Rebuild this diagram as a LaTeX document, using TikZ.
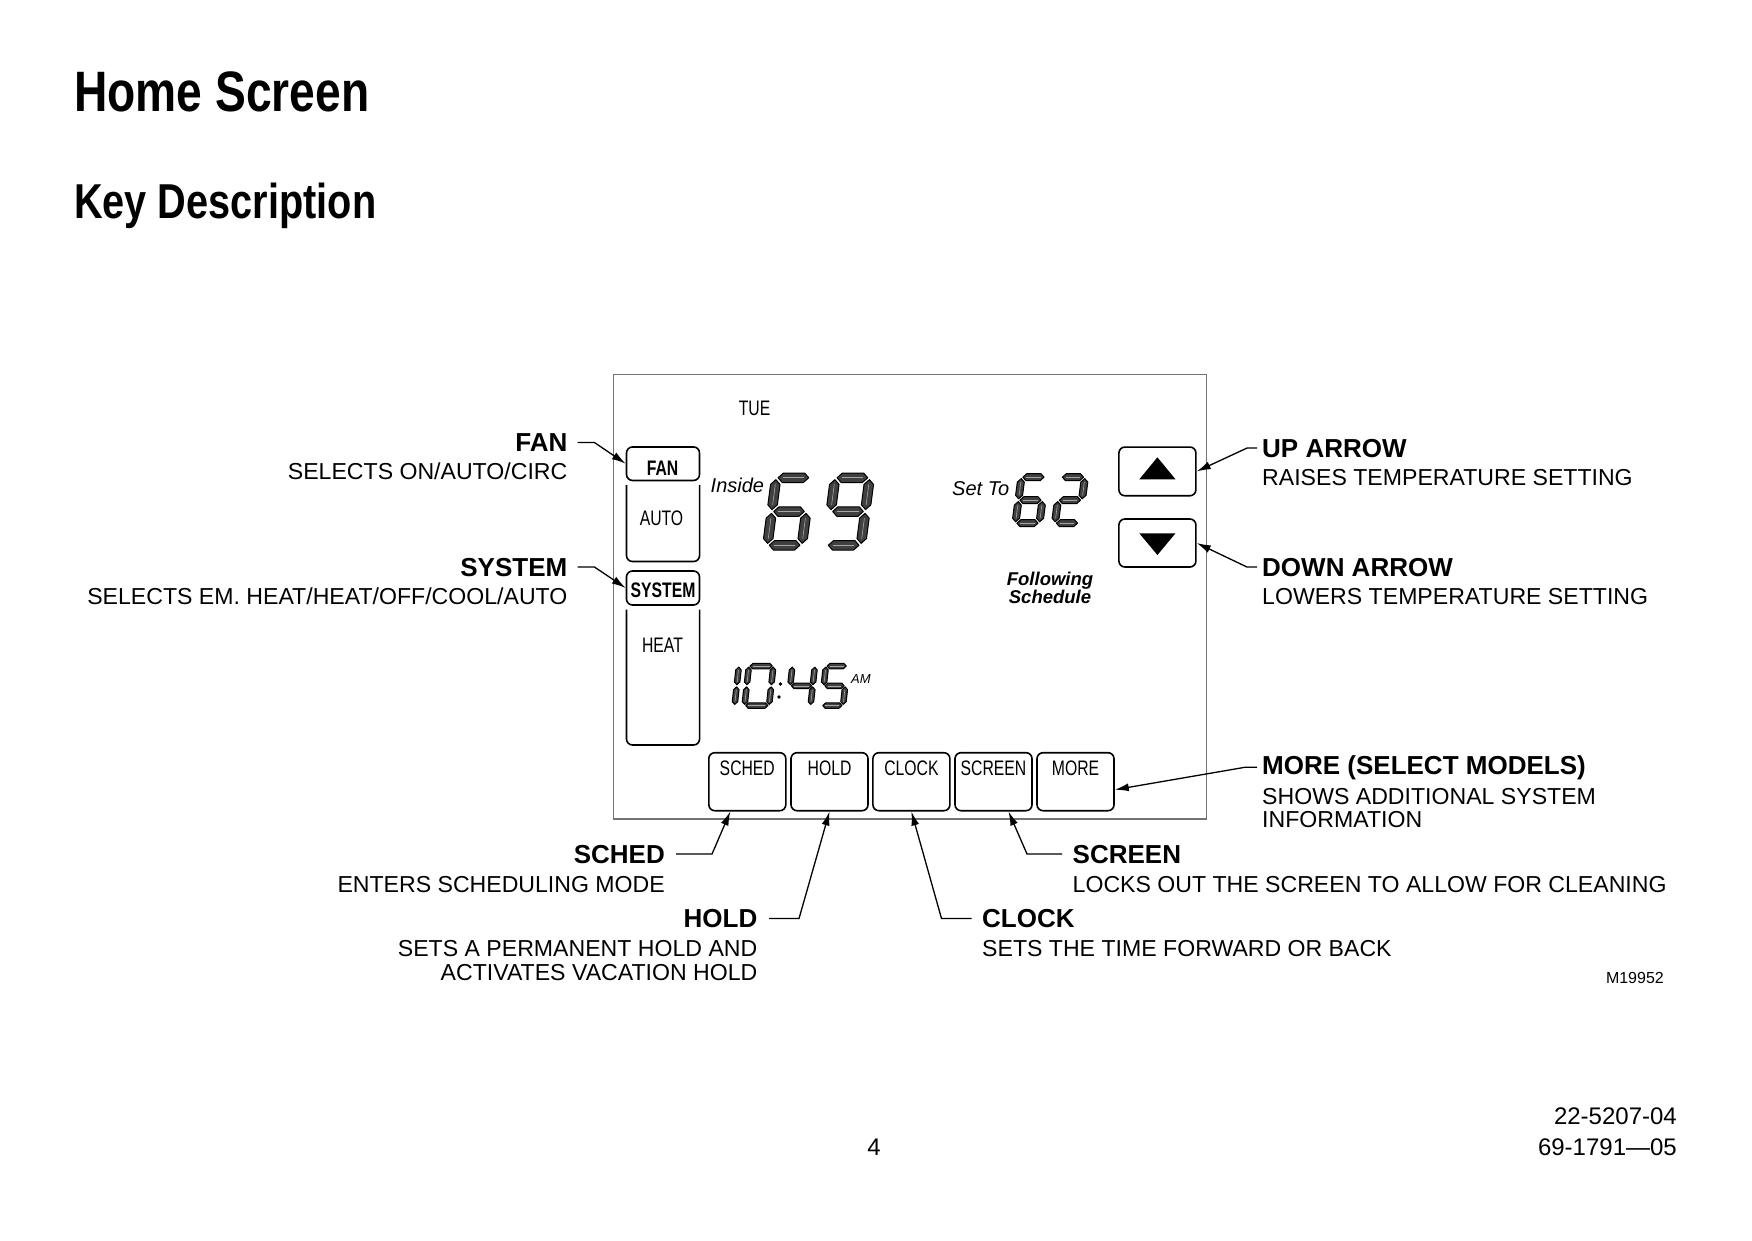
\documentclass[tikz,border=0pt]{standalone}
\usepackage{fontspec}
\setmainfont{Liberation Sans}
\newfontfamily\condf[FakeStretch=0.75]{Liberation Sans}
\newfontfamily\titlef[FakeStretch=0.81]{Liberation Sans}
\usetikzlibrary{arrows.meta}

\tikzset{
  lbl/.style={inner sep=0pt, font=\fontsize{26}{30}\selectfont\bfseries},
  desc/.style={inner sep=0pt, font=\fontsize{23.1}{26}\selectfont},
  ttl/.style={inner sep=0pt, font=\titlef\bfseries},
  btn/.style={draw, line width=1.6pt, rounded corners=6pt, inner sep=0pt},
  devtxt/.style={inner sep=0pt, font=\condf\fontsize{21}{24}\selectfont},
  devbold/.style={inner sep=0pt, font=\condf\fontsize{21}{24}\selectfont\bfseries},
  ital/.style={inner sep=0pt, font=\fontsize{20}{24}\selectfont\itshape},
  arr/.style={line width=1.3pt, -{Latex[length=14pt,width=8pt]}},
  lcdseg/.style={fill=black!75, draw=black, line width=1pt, line join=round},
  lcdin/.style={draw=black!35, line width=0.6pt},
}

\newcommand\lcdH[3]{\filldraw[lcdseg] (#1,#3) -- ({#1+\hh},{#3+\hh}) -- ({#2-\hh},{#3+\hh}) -- (#2,#3) -- ({#2-\hh},{#3-\hh}) -- ({#1+\hh},{#3-\hh}) -- cycle;
  \draw[lcdin] ({#1+\hh},#3) -- ({#2-\hh},#3);}
\newcommand\lcdV[3]{\filldraw[lcdseg] (#1,#2) -- ({#1+\hh},{#2+\hh}) -- ({#1+\hh},{#3-\hh}) -- (#1,#3) -- ({#1-\hh},{#3-\hh}) -- ({#1-\hh},{#2+\hh}) -- cycle;
  \draw[lcdin] (#1,{#2+\hh}) -- (#1,{#3-\hh});}
\def\lcda{\lcdH{\xl+\gg}{\xr-\gg}{\yt}}
\def\lcdb{\lcdV{\xr}{\ym+\gg}{\yt-\gg}}
\def\lcdc{\lcdV{\xr}{\yb+\gg}{\ym-\gg}}
\def\lcdd{\lcdH{\xl+\gg}{\xr-\gg}{\yb}}
\def\lcde{\lcdV{\xl}{\yb+\gg}{\ym-\gg}}
\def\lcdf{\lcdV{\xl}{\ym+\gg}{\yt-\gg}}
\def\lcdg{\lcdH{\xl+\gg}{\xr-\gg}{\ym}}
% x y(bottom) W H T slant segments
\newcommand\lcddigit[7]{%
  \begin{scope}[shift={(#1,#2)},x=1pt,y=1pt,xslant=#6]
    \pgfmathsetmacro\hh{#5/2}
    \pgfmathsetmacro\gg{#5*0.2}
    \pgfmathsetmacro\xl{#5/2}\pgfmathsetmacro\xr{#3-#5/2}
    \pgfmathsetmacro\yb{#5/2}\pgfmathsetmacro\ym{#4/2}\pgfmathsetmacro\yt{#4-#5/2}
    \foreach \s in {#7}{\csname lcd\s\endcsname}
  \end{scope}}

\begin{document}
\begin{tikzpicture}[x=1pt,y=-1pt]
\useasboundingbox (0,0) rectangle (1752,1241);
\fill[white] (0,0) rectangle (1752,1241);

% titles
\node[ttl, font=\titlef\bfseries\fontsize{57}{60}\selectfont, anchor=base west] (title) at (74,112) {Home Screen};
\node[ttl, font=\titlef\bfseries\fontsize{49}{52}\selectfont, anchor=base west] (subtitle) at (74,218.5) {Key Description};

% screen
\draw[black!55, line width=1.2pt] (613.4,374.3) rectangle (1206.7,819);
\node[devtxt, anchor=base] (tue) at (754.5,415) {TUE};

% left keys
\node[btn, minimum width=73pt, minimum height=33.5pt] (fanbtn) at (663,463.7) {};
\node[devbold, anchor=base] (fantxt) at (662.5,475) {FAN};
\draw[line width=1.6pt, rounded corners=6pt] (626.5,485) -- (626.5,561.5) -- (699.6,561.5) -- (699.6,485);
\node[devtxt, anchor=base] (autotxt) at (661.5,525) {AUTO};
\node[btn, minimum width=73pt, minimum height=34pt] (sysbtn) at (663,588) {};
\node[devbold, anchor=base] (systxt) at (663,597.5) {SYSTEM};
\draw[line width=1.6pt, rounded corners=6pt] (626.5,609.5) -- (626.5,745) -- (699.6,745) -- (699.6,609.5);
\node[devtxt, anchor=base] (heattxt) at (662.5,652) {HEAT};

% temperatures
\node[ital, anchor=base west] (inside) at (710.5,492.5) {Inside};
\lcddigit{762}{550}{44}{77}{9.5}{0.13}{a,c,d,e,f,g}
\lcddigit{821}{550}{44}{77}{9.5}{0.13}{a,b,c,d,f,g}
\node[ital, anchor=base west] (setto) at (952,495) {Set To};
\lcddigit{1011.5}{526.7}{31}{53}{7}{0.13}{a,c,d,e,f,g}
\lcddigit{1051}{526.7}{31}{53}{7}{0.13}{a,b,d,e,g}
\node[inner sep=0pt, font=\fontsize{18.5}{20}\selectfont\bfseries\itshape, anchor=base] (foll) at (1050,585) {Following};
\node[inner sep=0pt, font=\fontsize{18.5}{20}\selectfont\bfseries\itshape, anchor=base] (sched2) at (1050,603.5) {Schedule};

% clock
\lcddigit{731}{708.3}{6}{45}{5.5}{0.11}{b,c}
\lcddigit{741.5}{708.3}{30}{45}{5.5}{0.11}{a,b,c,d,e,f}
\fill[black] (780.5,684) circle (1.8pt);
\fill[black] (779,697) circle (1.8pt);
\lcddigit{785}{708.3}{28}{45}{5.5}{0.11}{b,c,f,g}
\lcddigit{818.5}{708.3}{27}{45}{5.5}{0.11}{a,c,d,f,g}
\node[inner sep=0pt, font=\fontsize{13}{15}\selectfont\itshape, anchor=base west] (am) at (851,683.5) {AM};

% up / down
\node[btn, minimum width=77pt, minimum height=48.7pt] (upbtn) at (1157.4,471.4) {};
\fill[black] (1157.4,457.3) -- (1175.5,479.3) -- (1139.3,479.3) -- cycle;
\node[btn, minimum width=77pt, minimum height=48pt] (downbtn) at (1157.4,543) {};
\fill[black] (1157.4,555) -- (1175.5,533.3) -- (1139.3,533.3) -- cycle;

% bottom keys
\node[btn, minimum width=77pt, minimum height=58pt] (schedbtn) at (747.3,781.7) {};
\node[btn, minimum width=77pt, minimum height=58pt] (holdbtn) at (829.5,781.7) {};
\node[btn, minimum width=77pt, minimum height=58pt] (clockbtn) at (911.4,781.7) {};
\node[btn, minimum width=77pt, minimum height=58pt] (screenbtn) at (993.5,781.7) {};
\node[btn, minimum width=77pt, minimum height=58pt] (morebtn) at (1075.5,781.7) {};
\node[devtxt, anchor=base] (t1) at (747.3,775.5) {SCHED};
\node[devtxt, anchor=base] (t2) at (829.5,775.5) {HOLD};
\node[devtxt, anchor=base] (t3) at (911.4,775.5) {CLOCK};
\node[devtxt, anchor=base] (t4) at (993.5,775.5) {SCREEN};
\node[devtxt, anchor=base] (t5) at (1075.5,775.5) {MORE};

% left labels
\node[lbl, anchor=base east] (fanlbl) at (567.5,451.5) {FAN};
\node[desc, anchor=base east] (fandesc) at (567.5,479.5) {SELECTS ON/AUTO/CIRC};
\node[lbl, anchor=base east] (syslbl) at (567.5,576) {SYSTEM};
\node[desc, anchor=base east] (sysdesc) at (567.5,604.5) {SELECTS EM. HEAT/HEAT/OFF/COOL/AUTO};

% right labels
\node[lbl, anchor=base west] (uplbl) at (1262,457) {UP ARROW};
\node[desc, anchor=base west] (updesc) at (1262,485) {RAISES TEMPERATURE SETTING};
\node[lbl, anchor=base west] (downlbl) at (1262,576) {DOWN ARROW};
\node[desc, anchor=base west] (downdesc) at (1262,604) {LOWERS TEMPERATURE SETTING};
\node[lbl, anchor=base west] (morelbl) at (1262,774) {MORE (SELECT MODELS)};
\node[desc, anchor=base west] (moredesc) at (1262,804) {SHOWS ADDITIONAL SYSTEM};
\node[desc, anchor=base west] (moredesc2) at (1262,827) {INFORMATION};

% bottom labels
\node[lbl, anchor=base east] (schedlbl) at (665,863) {SCHED};
\node[desc, anchor=base east] (scheddesc) at (665,892) {ENTERS SCHEDULING MODE};
\node[lbl, anchor=base east] (holdlbl) at (757.5,927.5) {HOLD};
\node[desc, anchor=base east] (holddesc) at (757.5,956) {SETS A PERMANENT HOLD AND};
\node[desc, anchor=base east] (holddesc2) at (757.5,980) {ACTIVATES VACATION HOLD};
\node[lbl, anchor=base west] (screenlbl) at (1072.5,863) {SCREEN};
\node[desc, anchor=base west] (screendesc) at (1072.5,892) {LOCKS OUT THE SCREEN TO ALLOW FOR CLEANING};
\node[lbl, anchor=base west] (clocklbl) at (982,927.5) {CLOCK};
\node[desc, anchor=base west] (clockdesc) at (982,956) {SETS THE TIME FORWARD OR BACK};
\node[inner sep=0pt, font=\fontsize{16}{18}\selectfont, anchor=base east] (mnum) at (1664,983) {M19952};

% connectors
\draw[arr] ([xshift=10pt]fanlbl.east) -- ++(17,0) -- (fanbtn.west);
\draw[arr] ([xshift=10pt]syslbl.east) -- ++(17,0) -- (sysbtn.west);
\draw[arr] ([xshift=-5pt]uplbl.west) -- ++(-10,0) -- (upbtn.east);
\draw[arr] ([xshift=-5pt]downlbl.west) -- ++(-10,0) -- (downbtn.east);
\draw[arr] ([xshift=-5pt]morelbl.west) -- ++(-12,0) -- ([yshift=-8pt]morebtn.east);
\draw[arr] ([xshift=11pt]schedlbl.east) -- ++(36,0) -- ([xshift=-17pt]schedbtn.south);
\draw[arr] ([xshift=11.5pt]holdlbl.east) -- ++(30,0) -- (holdbtn.south);
\draw[arr] ([xshift=-10.5pt]clocklbl.west) -- ++(-30,0) -- (clockbtn.south);
\draw[arr] ([xshift=-10.5pt]screenlbl.west) -- ++(-35,0) -- ([xshift=15pt]screenbtn.south);

% footer
\node[inner sep=0pt, font=\fontsize{24}{26}\selectfont, anchor=base east] (doc1) at (1677,1124) {22-5207-04};
\node[inner sep=0pt, font=\fontsize{24}{26}\selectfont, anchor=base east] (doc2) at (1677,1155) {69-1791—05};
\node[inner sep=0pt, font=\fontsize{24}{26}\selectfont, anchor=base] (page) at (874,1155) {4};
\end{tikzpicture}
\end{document}
